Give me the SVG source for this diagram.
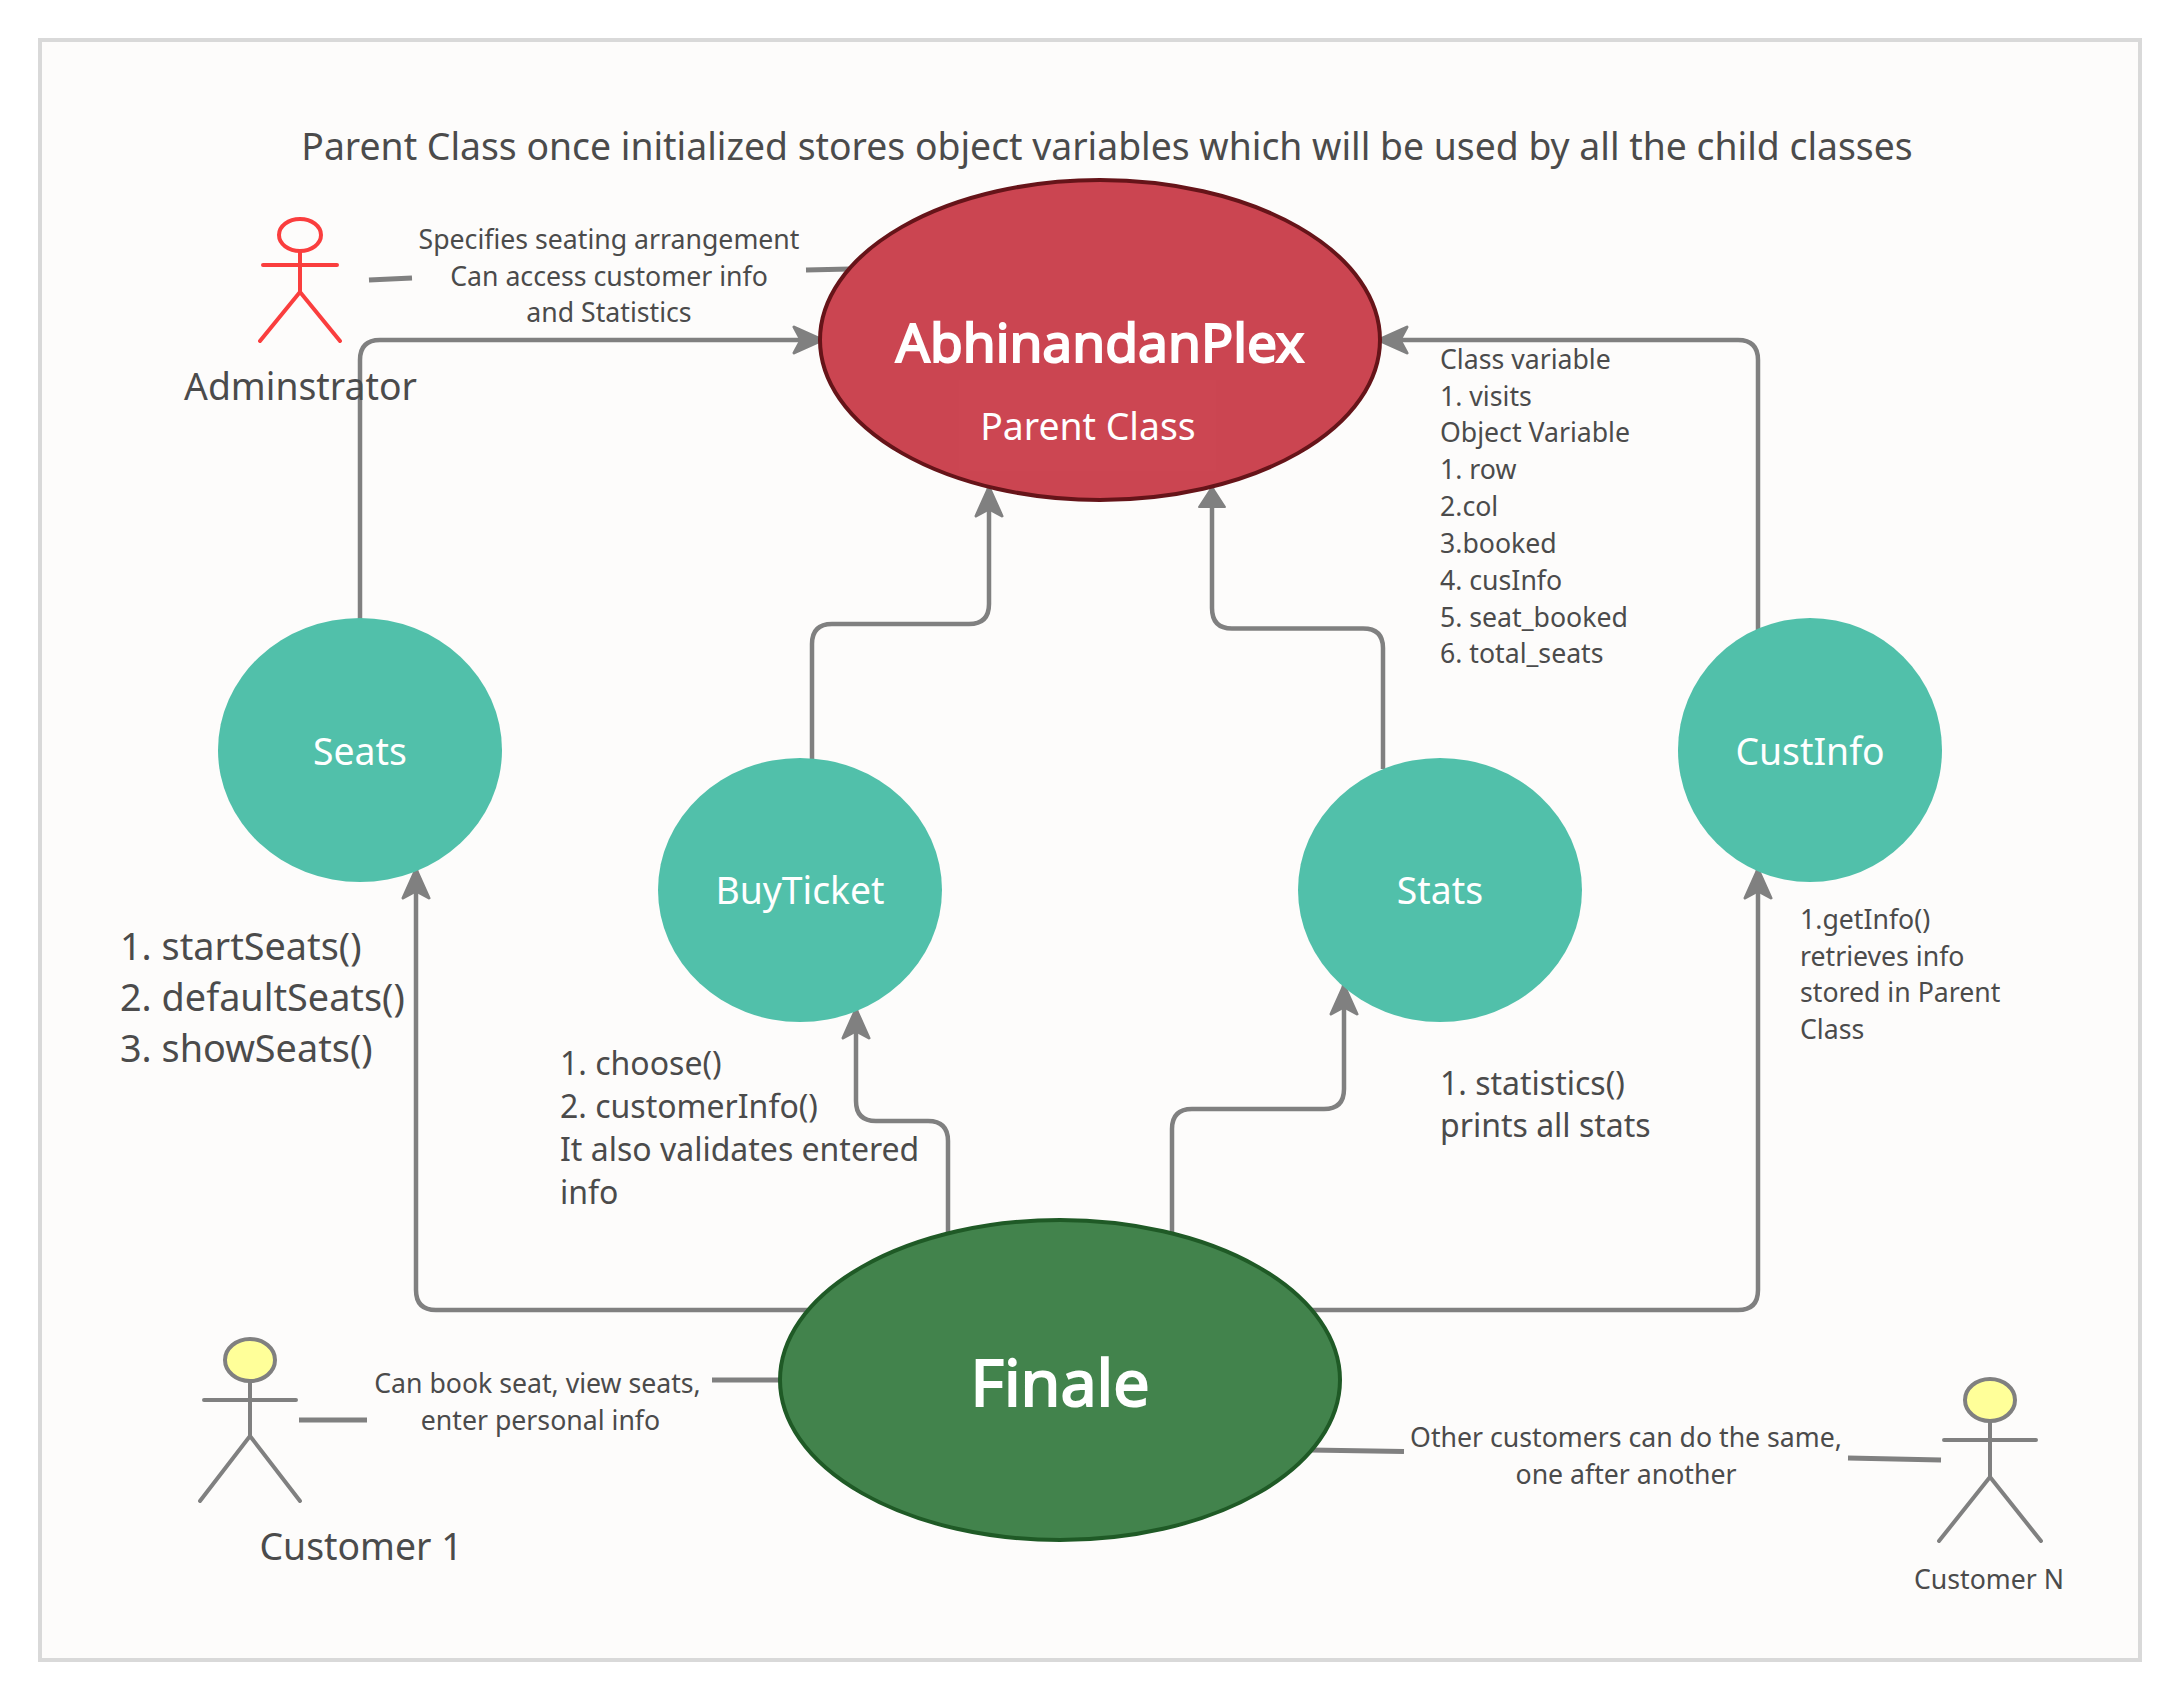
<svg xmlns="http://www.w3.org/2000/svg" width="2181" height="1701" viewBox="0 0 2181 1701">
<style>
text{font-family:"Noto Sans","Open Sans",sans-serif;fill:#4b4b4b}
.w{fill:#fff}
.m{text-anchor:middle}
.h{stroke:#fff;stroke-width:2;paint-order:stroke}
.c{fill:none;stroke:#808080;stroke-width:4.500;stroke-linejoin:round}
.l{fill:none;stroke:#808080;stroke-width:5}
.g{fill:none;stroke:#808080;stroke-width:4;stroke-linecap:round}
.t{fill:#51c0aa}
.s27{font-size:26.670px}
.s32{font-size:32px}
.s37{font-size:37.330px}
.s38{font-size:37.800px}
</style>
<defs>
<marker id="arr" markerUnits="userSpaceOnUse" markerWidth="36" markerHeight="36" refX="31" refY="16" orient="auto"><path d="M2 3 L31 16 L2 29 L9 16 Z" fill="#808080" stroke="#808080" stroke-width="3" stroke-linejoin="round"/></marker>
<marker id="tri" markerUnits="userSpaceOnUse" markerWidth="30" markerHeight="36" refX="21" refY="16" orient="auto"><path d="M1 3 L21 16 L1 29 Z" fill="#808080" stroke="#808080" stroke-width="2" stroke-linejoin="round"/></marker>
</defs>
<rect x="40" y="40" width="2100" height="1620" fill="#fdfcfb" stroke="#d9d9d9" stroke-width="4"/>
<text class="m s37" x="1107" y="160">Parent Class once initialized stores object variables which will be used by all the child classes</text>
<g id="connectors">
<path class="c" marker-end="url(#arr)" d="M360 620 V360 Q360 340 380 340 H823"/>
<path class="c" marker-end="url(#arr)" d="M812 761 V644 Q812 624 832 624 H969 Q989 624 989 604 V487"/>
<path class="c" marker-end="url(#tri)" d="M1383 769 V648 Q1383 628.500 1363 628.500 H1232 Q1212 628.500 1212 608 V487"/>
<path class="c" marker-end="url(#arr)" d="M1758 630 V360 Q1758 340 1738 340 H1378"/>
<path class="c" marker-end="url(#arr)" d="M809 1310 H436 Q416 1310 416 1290 V869"/>
<path class="c" marker-end="url(#arr)" d="M948 1232 V1141 Q948 1121 928 1121 H876 Q856 1121 856 1101 V1009"/>
<path class="c" marker-end="url(#arr)" d="M1172 1232 V1129 Q1172 1109 1192 1109 H1324 Q1344 1109 1344 1089 V985"/>
<path class="c" marker-end="url(#arr)" d="M1312 1310 H1738 Q1758 1310 1758 1290 V869"/>
<path class="l" d="M369 280 L412 278"/>
<path class="l" d="M806 270 L850 269"/>
<path class="l" d="M299 1420 H367"/>
<path class="l" d="M712 1380 H781"/>
<path class="l" d="M1310 1450 L1404 1451.500"/>
<path class="l" d="M1848 1458 L1941 1460"/>
</g>
<g id="parent"><ellipse cx="1100" cy="340" rx="280" ry="160" fill="#cb4551" stroke="#661419" stroke-width="4"/>
<rect x="959" y="380" width="257" height="91" fill="#cc4652"/>
<text class="w m h" x="1100" y="362" font-size="53.330">AbhinandanPlex</text>
<text class="w m s37" x="1088" y="440">Parent Class</text></g>
<g id="finale"><ellipse cx="1060" cy="1380" rx="280" ry="160" fill="#42834c" stroke="#1f5a26" stroke-width="4"/>
<text class="w m h" x="1060" y="1406" font-size="64.500">Finale</text></g>
<g id="seats"><ellipse class="t" cx="360" cy="750" rx="142" ry="132"/><text class="w m s37" x="360" y="765">Seats</text></g>
<g id="buyticket"><ellipse class="t" cx="800" cy="890" rx="142" ry="132"/><text class="w m s37" x="800" y="904">BuyTicket</text></g>
<g id="stats"><ellipse class="t" cx="1440" cy="890" rx="142" ry="132"/><text class="w m s37" x="1440" y="904">Stats</text></g>
<g id="custinfo"><ellipse class="t" cx="1810" cy="750" rx="132" ry="132"/><text class="w m s37" x="1810" y="765">CustInfo</text></g>
<g id="administrator"><ellipse cx="300" cy="235" rx="21" ry="16" fill="none" stroke="#fa3e3e" stroke-width="4"/>
<path d="M300 251 V292 M263 265 H337 M260 341 L300 292 L340 341" fill="none" stroke="#fa3e3e" stroke-width="4" stroke-linecap="round" stroke-linejoin="round"/>
<text class="m s37" x="300.500" y="400">Adminstrator</text></g>
<g id="customer1"><ellipse cx="250" cy="1360" rx="25" ry="21" fill="#ffff99" stroke="#808080" stroke-width="4"/>
<path class="g" d="M250 1381 V1436 M204 1400 H296 M200 1501 L250 1436 L300 1501"/>
<text class="m s37" x="361" y="1560">Customer 1</text></g>
<g id="customerN"><ellipse cx="1990" cy="1400" rx="25" ry="21" fill="#ffff99" stroke="#808080" stroke-width="4"/>
<path class="g" d="M1990 1421 V1477 M1944 1440 H2036 M1939 1541 L1990 1477 L2041 1541"/>
<text class="m s27" x="1989" y="1589">Customer N</text></g>
<g id="labels">
<text class="m s27" x="609" y="249">Specifies seating arrangement</text>
<text class="m s27" x="609" y="286">Can access customer info</text>
<text class="m s27" x="609" y="322">and Statistics</text>
<text class="s27" x="1440" y="369">Class variable</text>
<text class="s27" x="1440" y="406">1. visits</text>
<text class="s27" x="1440" y="442">Object Variable</text>
<text class="s27" x="1440" y="479">1. row</text>
<text class="s27" x="1440" y="516">2.col</text>
<text class="s27" x="1440" y="553">3.booked</text>
<text class="s27" x="1440" y="590">4. cusInfo</text>
<text class="s27" x="1440" y="627">5. seat_booked</text>
<text class="s27" x="1440" y="663">6. total_seats</text>
<text class="s38" x="120" y="960">1. startSeats()</text>
<text class="s38" x="120" y="1011">2. defaultSeats()</text>
<text class="s38" x="120" y="1062">3. showSeats()</text>
<text class="s32" x="560" y="1074.500">1. choose()</text>
<text class="s32" x="560" y="1118">2. customerInfo()</text>
<text class="s32" x="560" y="1161">It also validates entered</text>
<text class="s32" x="560" y="1204">info</text>
<text class="s32" x="1440" y="1095">1. statistics()</text>
<text class="s32" x="1440" y="1137">prints all stats</text>
<text class="s27" x="1800" y="929">1.getInfo()</text>
<text class="s27" x="1800" y="966">retrieves info</text>
<text class="s27" x="1800" y="1002">stored in Parent</text>
<text class="s27" x="1800" y="1039">Class</text>
<text class="m s27" x="537.500" y="1393">Can book seat, view seats,</text>
<text class="m s27" x="540.500" y="1430">enter personal info</text>
<text class="m s27" x="1626" y="1447">Other customers can do the same,</text>
<text class="m s27" x="1626" y="1484">one after another</text>
</g>
</svg>
